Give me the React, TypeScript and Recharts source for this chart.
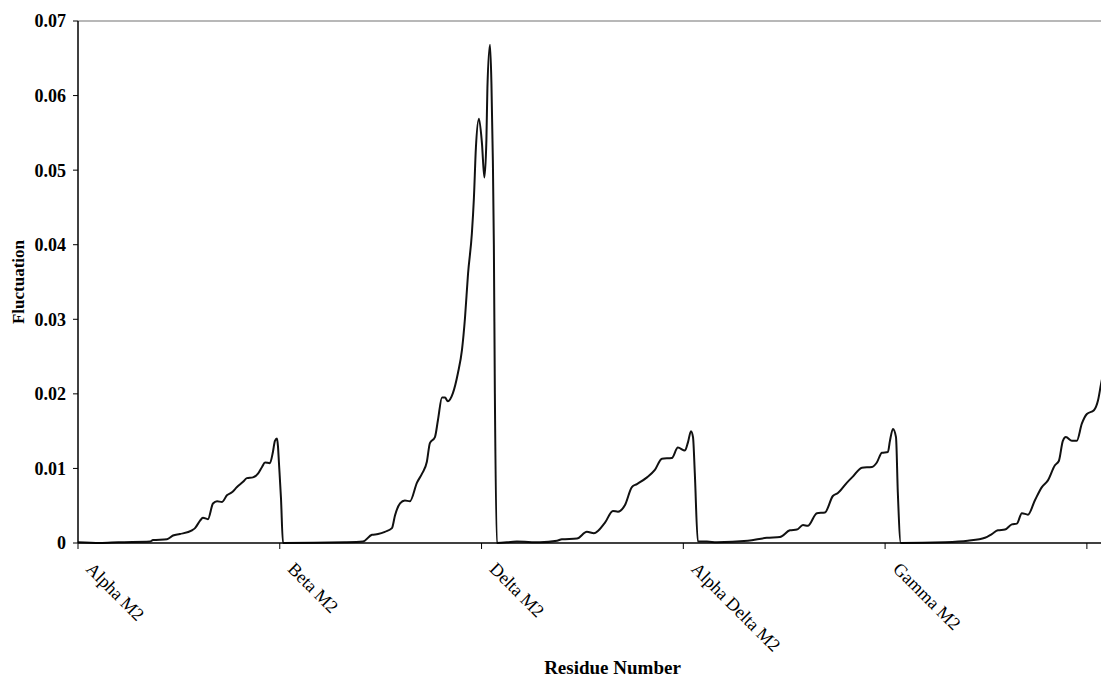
import { Line, LineChart, ReferenceLine, XAxis, YAxis } from "recharts";

// residue position (x) and fluctuation (y), one list per subunit
const alphaM2: [number, number][] = [
  [0, 0.0001], [10.9, 0], [20, 0.0001], [35.7, 0.0002], [37.2, 0.0004], [44.1, 0.0005],
  [47.1, 0.001], [50.5, 0.0012], [56.5, 0.0017], [58.0, 0.002], [60.5, 0.003], [61.9, 0.0034],
  [64.4, 0.0032], [66.9, 0.0053], [68.9, 0.0056], [71.4, 0.0055], [73.8, 0.0064], [76.3, 0.0068],
  [78.8, 0.0075], [81.8, 0.0082], [83.7, 0.0087], [86.7, 0.0088], [89.2, 0.0093], [91.2, 0.0102],
  [92.7, 0.0108], [95.1, 0.0107], [96.6, 0.0122], [97.6, 0.0137], [98.6, 0.014], [99.1, 0.013],
  [99.6, 0.0107], [100.6, 0.006], [101.6, 0],
];

const deltaM2: [number, number][] = [
  [132.3, 0.0001], [141.2, 0.0002], [145.7, 0.0011], [148.7, 0.0012], [152.1, 0.0015],
  [155.6, 0.002], [157.1, 0.0037], [159.6, 0.0053], [162.0, 0.0057], [164.5, 0.0056],
  [168.0, 0.0081], [170.5, 0.0093], [172.9, 0.0109], [174.4, 0.0134], [176.9, 0.0142],
  [178.4, 0.0165], [180.4, 0.0195], [181.9, 0.0195], [183.3, 0.019], [185.8, 0.0201],
  [188.3, 0.0228], [190.3, 0.0259], [191.8, 0.0302], [193.3, 0.0361], [195.2, 0.0415],
  [196.2, 0.0462], [197.2, 0.053], [198.7, 0.0569], [200.2, 0.0536], [201.4, 0.049],
  [202.4, 0.054], [202.9, 0.061], [204.2, 0.0668], [204.9, 0.0616], [205.6, 0.0514],
  [206.1, 0.04], [206.6, 0.02], [207.6, 0],
];

const alphaDeltaM2: [number, number][] = [
  [217.5, 0.0002], [228.9, 0.0001], [237.4, 0.0003], [239.8, 0.0005], [247.3, 0.0006],
  [252.2, 0.0015], [255.7, 0.0013], [261.1, 0.0027], [265.1, 0.0043], [267.6, 0.0042],
  [271.1, 0.0051], [274.5, 0.0075], [277.0, 0.0079], [282.0, 0.0088], [285.9, 0.0098],
  [289.4, 0.0113], [294.3, 0.0114], [297.3, 0.0128], [300.8, 0.0124], [302.3, 0.0135],
  [303.8, 0.015], [304.8, 0.0142], [305.7, 0.0093], [307.2, 0.0002],
];

const gammaM2: [number, number][] = [
  [311.7, 0.0002], [316.6, 0.0001], [332.0, 0.0003], [341.4, 0.0007], [347.9, 0.0008],
  [352.8, 0.0017], [356.3, 0.0018], [359.3, 0.0024], [361.7, 0.0023], [366.2, 0.004],
  [370.2, 0.0041], [374.1, 0.0063], [376.6, 0.0067], [381.1, 0.0081], [384.0, 0.0089],
  [388.5, 0.0101], [393.5, 0.0102], [395.9, 0.0108], [398.4, 0.0121], [401.4, 0.0122],
  [402.4, 0.0137], [403.9, 0.0153], [405.4, 0.0142], [406.3, 0.0068], [407.8, 0],
];

const lastM2: [number, number][] = [
  [429.6, 0.0001], [441.0, 0.0003], [449.5, 0.0007], [452.9, 0.0012], [455.9, 0.0017],
  [459.4, 0.0018], [462.8, 0.0025], [465.3, 0.0026], [467.8, 0.004], [470.8, 0.0038],
  [474.2, 0.0057], [477.7, 0.0075], [480.7, 0.0084], [484.1, 0.0104], [486.1, 0.011],
  [488.1, 0.0137], [489.6, 0.0142], [492.6, 0.0137], [495.0, 0.0137], [497.5, 0.016],
  [500.0, 0.0173], [503.5, 0.0178], [505.5, 0.0191], [507.0, 0.0213], [509.0, 0.024],
];

const subunitNames = ["Alpha M2", "Beta M2", "Delta M2", "Alpha Delta M2", "Gamma M2", ""];
const subunitTicks = [0, 100, 200, 300, 400, 500];
const fluctuationTicks = [0, 0.01, 0.02, 0.03, 0.04, 0.05, 0.06, 0.07];

const data = [...alphaM2, ...deltaM2, ...alphaDeltaM2, ...gammaM2, ...lastM2].map(
  ([residue, value]) => ({ residue, value })
);

const FONT = "'Liberation Serif', 'Times New Roman', serif";

function SubunitTick(props: any) {
  const { x, y, payload } = props;
  const name = subunitNames[subunitTicks.indexOf(payload.value)] ?? "";
  const tx = x + 7;
  const ty = y + 19;
  return (
    <text
      x={tx}
      y={ty}
      transform={`rotate(45, ${tx}, ${ty})`}
      textAnchor="start"
      fontFamily={FONT}
      fontSize={18}
      fill="#000"
    >
      {name}
    </text>
  );
}

export default function App() {
  return (
    <div style={{ position: "absolute", left: 0, top: 0, width: 1101, height: 677, background: "#fff" }}>
      <LineChart width={1101} height={677} data={data} margin={{ top: 21, right: 0, bottom: 0, left: 0 }}>
        <XAxis
          type="number"
          dataKey="residue"
          domain={[0, 507]}
          allowDataOverflow
          ticks={subunitTicks}
          interval={0}
          height={134}
          tickSize={6}
          tick={<SubunitTick />}
          axisLine={{ stroke: "#000", strokeWidth: 1.5 }}
          tickLine={{ stroke: "#000" }}
          label={{
            content: (p: any) => {
              const vb = p.viewBox;
              return (
                <text
                  x={vb.x + vb.width / 2 + 23}
                  y={674}
                  textAnchor="middle"
                  fontFamily={FONT}
                  fontWeight="bold"
                  fontSize={19}
                  fill="#000"
                >
                  Residue Number
                </text>
              );
            },
          }}
        />
        <YAxis
          type="number"
          domain={[0, 0.07]}
          ticks={fluctuationTicks}
          width={78}
          tickSize={5}
          tickMargin={7}
          tickFormatter={(v: number) => (v === 0 ? "0" : v.toFixed(2))}
          tick={{ fontFamily: FONT, fontSize: 18, fontWeight: "bold", fill: "#000" }}
          axisLine={{ stroke: "#000", strokeWidth: 1.5 }}
          tickLine={{ stroke: "#000" }}
          label={{
            content: (p: any) => {
              const vb = p.viewBox;
              const cy = vb.y + vb.height / 2;
              return (
                <text
                  x={24}
                  y={cy}
                  transform={`rotate(-90, 24, ${cy})`}
                  textAnchor="middle"
                  fontFamily={FONT}
                  fontWeight="bold"
                  fontSize={17}
                  fill="#000"
                >
                  Fluctuation
                </text>
              );
            },
          }}
        />
        <ReferenceLine y={0.07} stroke="#a0a0a0" strokeWidth={1.5} />
        <Line
          type="monotone"
          dataKey="value"
          stroke="#111"
          strokeWidth={2}
          dot={false}
          isAnimationActive={false}
        />
      </LineChart>
    </div>
  );
}
